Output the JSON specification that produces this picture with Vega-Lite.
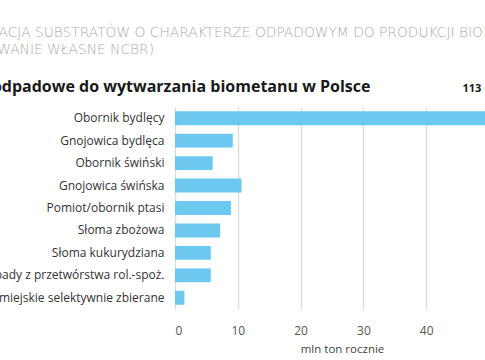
{
  "$schema": "https://vega.github.io/schema/vega-lite/v6.json",
  "autosize": {"type": "none"},
  "width": 310,
  "height": 202,
  "padding": {"left": 175, "top": 107, "right": 0, "bottom": 51},
  "background": "#ffffff",
  "config": {"view": {"stroke": null}, "font": "Open Sans"},
  "title": {
    "text": ["KLASYFIKACJA SUBSTRATÓW O CHARAKTERZE ODPADOWYM DO PRODUKCJI BIOMETANU", "(OPRACOWANIE WŁASNE NCBR)"],
    "anchor": "start",
    "frame": "group",
    "align": "left",
    "dx": -241,
    "offset": 22,
    "lineHeight": 16.3,
    "font": "DejaVu Sans",
    "fontSize": 13.8,
    "fontWeight": 300,
    "color": "#ababab"
  },
  "data": {
    "values": [
      {"substrat": "Obornik bydlęcy", "wartosc": 58.2},
      {"substrat": "Gnojowica bydlęca", "wartosc": 9.2},
      {"substrat": "Obornik świński", "wartosc": 6.0},
      {"substrat": "Gnojowica świńska", "wartosc": 10.6},
      {"substrat": "Pomiot/obornik ptasi", "wartosc": 8.9},
      {"substrat": "Słoma zbożowa", "wartosc": 7.2},
      {"substrat": "Słoma kukurydziana", "wartosc": 5.7},
      {"substrat": "Odpady z przetwórstwa rol.-spoż.", "wartosc": 5.7},
      {"substrat": "Odpady miejskie selektywnie zbierane", "wartosc": 1.5}
    ]
  },
  "layer": [
    {
      "mark": {"type": "bar", "color": "#6CC8EE", "clip": true},
      "encoding": {
        "y": {
          "field": "substrat",
          "type": "nominal",
          "sort": null,
          "scale": {"paddingInner": 0.38, "paddingOuter": 0.19},
          "axis": {
            "title": "Substraty odpadowe do wytwarzania biometanu w Polsce",
            "titleAngle": 0,
            "titleAlign": "right",
            "titleBaseline": "alphabetic",
            "titleX": 195,
            "titleY": -15.5,
            "titleFont": "Open Sans",
            "titleFontSize": 16,
            "titleFontWeight": "bold",
            "titleColor": "#1a1a1a",
            "domain": false,
            "ticks": false,
            "labelPadding": 11,
            "labelFont": "Open Sans",
            "labelFontSize": 12,
            "labelColor": "#333333",
            "labelLimit": 400
          }
        },
        "x": {
          "field": "wartosc",
          "type": "quantitative",
          "scale": {"domain": [0, 49.36], "nice": false},
          "axis": {
            "values": [0, 10, 20, 30, 40],
            "title": "mln ton rocznie",
            "titleX": 167,
            "titleY": 40,
            "titleBaseline": "middle",
            "titleFont": "Open Sans",
            "titleFontSize": 11.5,
            "titleFontWeight": "normal",
            "titleColor": "#444444",
            "domain": false,
            "ticks": false,
            "labelPadding": 16,
            "labelFont": "Open Sans",
            "labelFontSize": 12,
            "labelColor": "#555555",
            "gridColor": "#dcdcdc",
            "gridWidth": 1.5
          }
        }
      }
    },
    {
      "mark": {"type": "bar", "opacity": 0, "clip": true},
      "encoding": {
        "y": {"field": "substrat", "type": "nominal", "sort": null},
        "x": {
          "field": "wartosc",
          "type": "quantitative",
          "axis": {
            "orient": "top",
            "title": "113 mln ton",
            "titleX": 287,
            "titleY": -15.5,
            "titleAlign": "left",
            "titleBaseline": "alphabetic",
            "titleFont": "Open Sans",
            "titleFontSize": 11,
            "titleFontWeight": "bold",
            "titleColor": "#1a1a1a",
            "labels": false,
            "ticks": false,
            "domain": false,
            "grid": false
          }
        }
      }
    }
  ],
  "resolve": {"axis": {"x": "independent"}}
}
